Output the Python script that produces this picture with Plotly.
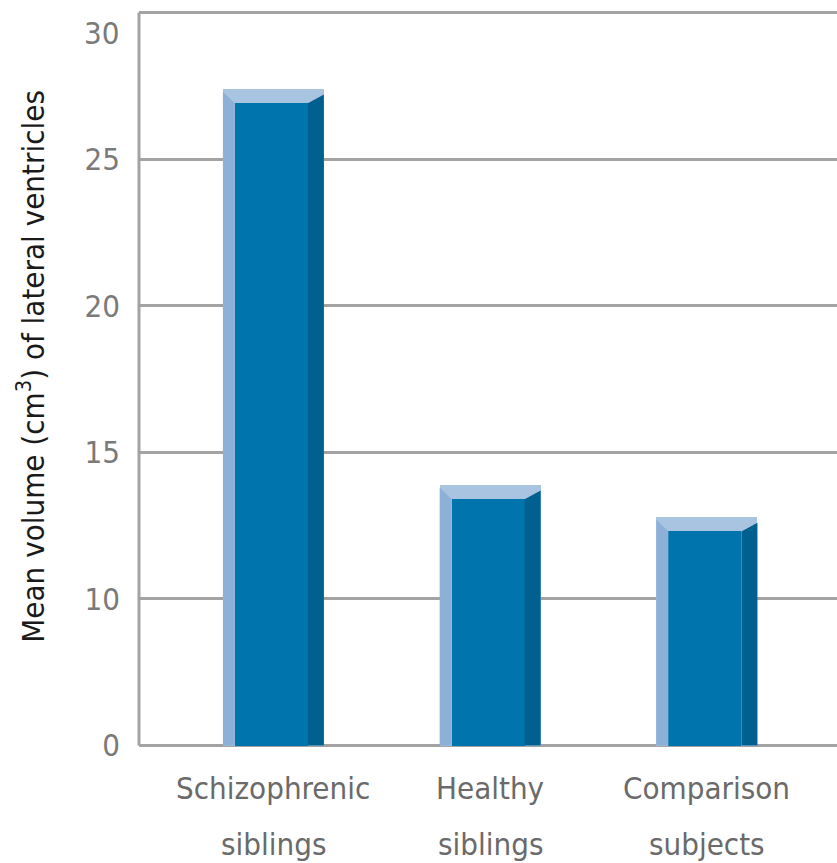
import numpy as np
import plotly.graph_objects as go

# Data
categories = [["Schizophrenic", "siblings"], ["Healthy", "siblings"], ["Comparison", "subjects"]]
mean_volume = [27.4, 13.9, 12.8]  # cm^3

# Broken value axis: 0 then 10..30 in steps of 5, evenly spaced
tick_values = [0, 10, 15, 20, 25, 30]
tick_labels = ["0", "10", "15", "20", "25", "30"]
tick_pos = list(range(len(tick_values)))


def to_axis(v):
    return float(np.interp(v, tick_values, tick_pos))


# Bar styling (category units / axis units)
HALF_W = 0.233        # half width of the whole bar block
FRONT_L = -0.178      # front face left edge offset
FRONT_R = 0.159       # front face right edge offset
BEVEL = 0.10          # top bevel depth
SIDE_TOP = 0.04       # right side top drop at outer edge
LEFT_TOP = 0.02       # left strip top drop at outer edge

C_TOP = "#a9c4e1"
C_LEFT = "#8cb0d6"
C_FRONT = "#0075ad"
C_SIDE = "#006190"
GRID = "#a3a3a3"

xs = list(range(len(categories)))
tops = [to_axis(v) for v in mean_volume]

fig = go.Figure()

# Bar block (top bevel colour)
fig.add_trace(go.Bar(
    x=xs, y=tops, width=2 * HALF_W, marker=dict(color=C_TOP, line=dict(width=0)),
    hoverinfo="skip", showlegend=False,
))
# Front face
fig.add_trace(go.Bar(
    x=xs, y=[t - BEVEL for t in tops], width=FRONT_R - FRONT_L, offset=FRONT_L,
    marker=dict(color=C_FRONT, line=dict(width=0)),
    customdata=mean_volume, hovertemplate="%{customdata} cm³<extra></extra>",
    showlegend=False,
))

# Left and right facets
for x, t in zip(xs, tops):
    fig.add_trace(go.Scatter(
        x=[x - HALF_W, x - HALF_W, x + FRONT_L, x + FRONT_L, x - HALF_W],
        y=[0, t - LEFT_TOP, t - BEVEL, 0, 0],
        mode="lines", fill="toself", fillcolor=C_LEFT, line=dict(width=0),
        hoverinfo="skip", showlegend=False,
    ))
    fig.add_trace(go.Scatter(
        x=[x + FRONT_R, x + FRONT_R, x + HALF_W, x + HALF_W, x + FRONT_R],
        y=[0, t - BEVEL, t - SIDE_TOP, 0, 0],
        mode="lines", fill="toself", fillcolor=C_SIDE, line=dict(width=0),
        hoverinfo="skip", showlegend=False,
    ))

font_family = "DejaVu Sans Condensed, Liberation Sans Narrow, DejaVu Sans, sans-serif"
label_font = dict(family=font_family, size=31, color="#6a6a6a")
tick_font = dict(family=font_family, size=31, color="#7a7a7a")

# Two-line category labels below the axis
annotations = []
for x, (line1, line2) in zip(xs, categories):
    annotations.append(dict(
        text=line1, xref="x", yref="paper", x=x, y=-0.0561, showarrow=False,
        xanchor="center", yanchor="middle", font=label_font,
    ))
    annotations.append(dict(
        text=line2, xref="x", yref="paper", x=x, y=-0.1315, showarrow=False,
        xanchor="center", yanchor="middle", font=label_font,
    ))

# Top tick label sits just under its gridline
annotations.append(dict(
    text=tick_labels[-1], xref="paper", yref="y", x=0, y=tick_pos[-1],
    xanchor="right", yanchor="top", xshift=-18, yshift=-1, showarrow=False,
    font=tick_font,
))

annotations.append(dict(
    text="Mean volume (cm<sup>3</sup>) of lateral ventricles",
    xref="paper", yref="paper", x=-0.1548, y=0.518, textangle=-90,
    showarrow=False, font=dict(size=31, color="#1a1a1a", family=font_family),
    xanchor="center", yanchor="middle",
))

fig.update_layout(
    width=837, height=863,
    margin=dict(l=139, r=0, t=10.5, b=115.5),
    plot_bgcolor="white", paper_bgcolor="white",
    barmode="overlay", bargap=0,
    font=dict(family=font_family, color="#6e6e6e"),
    xaxis=dict(
        range=[-0.62, 2.6], tickvals=xs, showticklabels=False,
        showgrid=False, zeroline=False, showline=False, ticks="",
        fixedrange=True,
    ),
    yaxis=dict(
        range=[-0.01, 5.01], tickmode="array", tickvals=tick_pos,
        ticktext=tick_labels[:-1] + [""],
        showgrid=True, gridcolor=GRID, gridwidth=2.5, zeroline=False,
        showline=False, ticks="",
        tickfont=tick_font,
        ticklabelstandoff=18,
        fixedrange=True,
    ),
    shapes=[dict(
        type="line", xref="paper", yref="y", x0=0, x1=0, y0=0, y1=5,
        line=dict(color=GRID, width=3), layer="below",
    )],
    annotations=annotations,
)

fig.write_html("out.html")
